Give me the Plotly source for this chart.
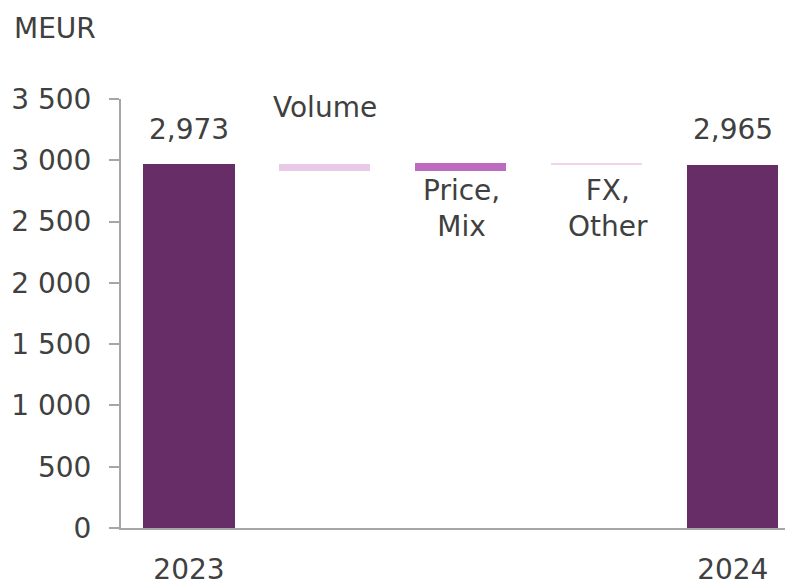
import plotly.graph_objects as go

# ---- data ----
categories = ["2023", "Volume", "Price, Mix", "FX, Other", "2024"]
start_value = 2973
changes = [-60, 64, -12]          # Volume, Price/Mix, FX/Other
end_value = 2965
label_texts = ["2,973", "Volume", "Price,<br>Mix", "FX,<br>Other", "2,965"]
y_tickvals = [0, 500, 1000, 1500, 2000, 2500, 3000, 3500]
y_ticktext = ["0", "500", "1 000", "1 500", "2 000", "2 500", "3 000", "3 500"]
x_tickvals = [0, 4]
x_ticktext = ["2023", "2024"]

# ---- styling ----
FONT = "DejaVu Sans"
FS = 28
TXT = "#404040"
colors = ["#662D67", "#E8CAE8", "#BD6BC0", "#F0D3EE", "#662D67"]

# compute bases / heights from data
bases, heights = [0], [start_value]
level = start_value
for c in changes:
    new = level + c
    bases.append(min(level, new))
    heights.append(abs(c))
    level = new
bases.append(0)
heights.append(end_value)

xs = list(range(len(categories)))
fig = go.Figure(go.Bar(
    x=xs, y=heights, base=bases, width=0.67,
    marker=dict(color=colors, line=dict(width=0)),
    hoverinfo="skip",
))

# page body has an 8px margin -> compensate
OFF = 8
W, H = 793, 573
ml = 120.5 - OFF
mt = 98.5 - OFF
axis_bottom = 527.7 - OFF
plot_h = axis_bottom - mt
plot_w = W - ml
cat_px = 136.05

tops = [b + h for b, h in zip(bases, heights)]
ann = []
ann.append(dict(x=0, y=tops[0], text=label_texts[0], yshift=34, xshift=0))
ann.append(dict(x=1, y=tops[1], text=label_texts[1], yshift=56, xshift=0))
ann.append(dict(x=2, y=bases[2], text=label_texts[2], yshift=-38, xshift=1))
ann.append(dict(x=3, y=bases[3], text=label_texts[3], yshift=-44, xshift=11))
ann.append(dict(x=4, y=tops[4], text=label_texts[4], yshift=35, xshift=0))
annotations = []
for a in ann:
    annotations.append(dict(xref="x", yref="y", showarrow=False,
                            xanchor="center", yanchor="middle",
                            font=dict(family=FONT, size=FS, color=TXT), **a))
annotations.append(dict(xref="paper", yref="paper", x=(11 - OFF - ml) / plot_w,
                        y=(axis_bottom - (28 - OFF)) / plot_h,
                        xanchor="left", yanchor="middle",
                        text="MEUR", showarrow=False,
                        font=dict(family=FONT, size=FS, color=TXT)))

fig.update_layout(
    width=W, height=H,
    margin=dict(l=ml, r=0, t=mt, b=H - axis_bottom, pad=0),
    plot_bgcolor="white", paper_bgcolor="white",
    showlegend=False,
    bargap=0,
    annotations=annotations,
    font=dict(family=FONT, size=FS, color=TXT),
)
fig.update_xaxes(
    range=[-0.5, -0.5 + plot_w / cat_px],
    tickvals=x_tickvals, ticktext=x_ticktext,
    showline=True, linecolor="#A6A6A6", linewidth=2,
    ticks="", showgrid=False, zeroline=False,
    tickfont=dict(family=FONT, size=FS, color=TXT),
    ticklabelstandoff=15,
    automargin=False,
)
fig.update_yaxes(
    range=[0, 3500],
    tickvals=y_tickvals, ticktext=y_ticktext,
    showline=True, linecolor="#A6A6A6", linewidth=2,
    ticks="outside", ticklen=10, tickcolor="#A6A6A6", tickwidth=2,
    showgrid=False, zeroline=False,
    tickfont=dict(family=FONT, size=FS, color=TXT),
    ticklabelstandoff=12,
    automargin=False,
)

fig.write_html("out.html")
